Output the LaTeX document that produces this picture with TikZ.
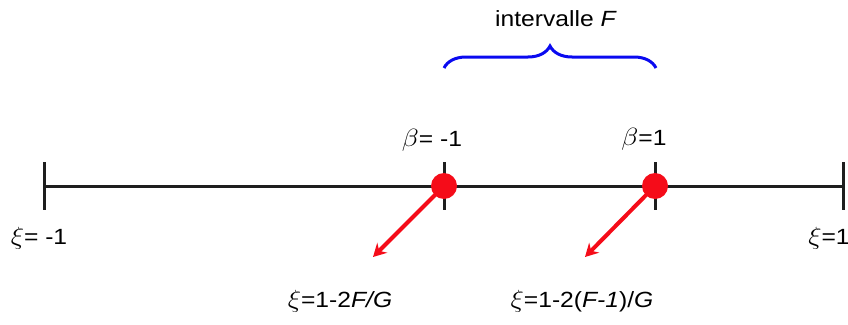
\documentclass[tikz,border=0pt]{standalone}
\usepackage{fontspec}
\usepackage{graphicx}
\setmainfont{Liberation Sans}
\usetikzlibrary{decorations.pathreplacing,arrows.meta}
\definecolor{myred}{RGB}{245,12,25}
\definecolor{myblue}{RGB}{10,10,240}
\definecolor{mydark}{RGB}{30,30,30}
\newcommand{\wide}[1]{\scalebox{1.12}[1]{#1}}
\newcommand{\gxi}{\scalebox{1.2}{$\xi$}}
\newcommand{\gbeta}{\scalebox{1.2}{$\beta$}}
\tikzset{
  axis/.style={draw=mydark,line width=3pt},
  tick/.style={draw=mydark,line width=3pt},
  dot/.style={circle,fill=myred,minimum size=26pt,inner sep=0pt},
  redarrow/.style={draw=myred,line width=4pt,-{Stealth[length=13pt,width=14pt]}},
  lbl/.style={font=\fontsize{22}{26}\selectfont,inner sep=0pt,anchor=base},
}
\begin{document}
\begin{tikzpicture}[x=1pt,y=-1pt]
\useasboundingbox (0,0) rectangle (848,324);
\coordinate (L) at (44,186);
\coordinate (R) at (843,186);
\draw[axis] (L) -- (R);
\draw[tick] (44,162) -- (44,210);
\draw[tick] (843,162) -- (843,210);
\draw[tick] (444,162) -- (444,210);
\draw[tick] (655,162) -- (655,210);
\node[dot] (d1) at (444,186) {};
\node[dot] (d2) at (655,186) {};
\coordinate (a1) at (373,257);
\coordinate (a2) at (585,257);
\draw[redarrow] (d1.center) -- (a1);
\draw[redarrow] (d2.center) -- (a2);
\draw[draw=myblue,line width=3pt,decorate,decoration={brace,amplitude=22pt,aspect=0.5}] (444,68) -- (656,68);
\node[lbl] (int) at (556,26) {\wide{intervalle \textit{F}}};
\node[lbl] (b1) at (432,146) {\wide{\gbeta= -1}};
\node[lbl] (b2) at (644,145) {\wide{\gbeta=1}};
\node[lbl] (x1) at (39,244) {\wide{\gxi= -1}};
\node[lbl] (x2) at (829,244) {\wide{\gxi=1}};
\node[lbl] (f1) at (340,307) {\wide{\gxi=1-2\textit{F/G}}};
\node[lbl] (f2) at (582,307) {\wide{\gxi=1-2(\textit{F-1})/\textit{G}}};
\end{tikzpicture}
\end{document}
